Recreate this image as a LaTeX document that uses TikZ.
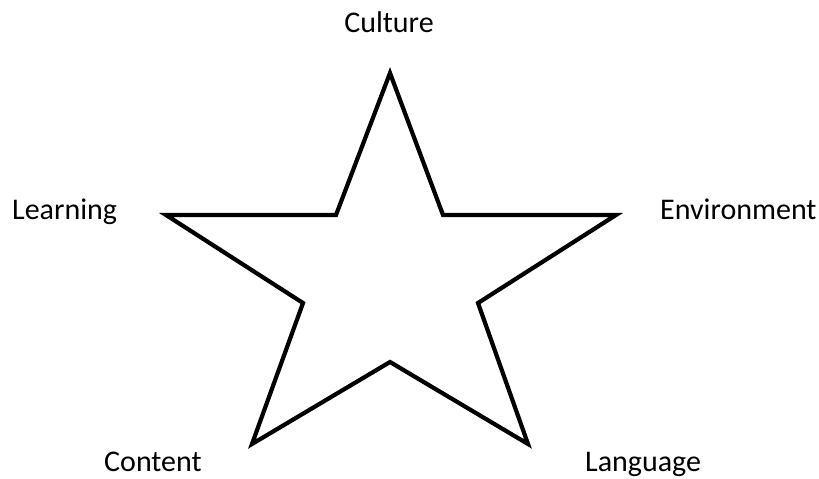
\documentclass[tikz,border=0pt]{standalone}
\usepackage{fontspec}
\setmainfont{Carlito}
\begin{document}
\begin{tikzpicture}[x=1pt,y=-1pt,
  lbl/.style={inner sep=0pt,font=\fontsize{30}{36}\selectfont},
  starline/.style={line width=4.2pt,line join=miter,draw=black}]
\useasboundingbox (0,0) rectangle (819,479);
\coordinate (T) at (390,73);
\coordinate (IL) at (336,215);
\coordinate (L) at (166,215);
\coordinate (ILw) at (303,303);
\coordinate (BL) at (252,444);
\coordinate (B) at (390,362);
\coordinate (BR) at (528,444);
\coordinate (IRw) at (478,303);
\coordinate (R) at (616,215);
\coordinate (IR) at (443,215);
\draw[starline] (T) -- (IL) -- (L) -- (ILw) -- (BL) -- (B) -- (BR) -- (IRw) -- (R) -- (IR) -- cycle;
\node[lbl,anchor=base] (culture) at (389,32) {Culture};
\node[lbl,anchor=base west] (learning) at (12,219) {Learning};
\node[lbl,anchor=base west] (environment) at (660,219) {Environment};
\node[lbl,anchor=base west] (content) at (104,471.5) {Content};
\node[lbl,anchor=base west] (language) at (585,471) {Language};
\end{tikzpicture}
\end{document}
